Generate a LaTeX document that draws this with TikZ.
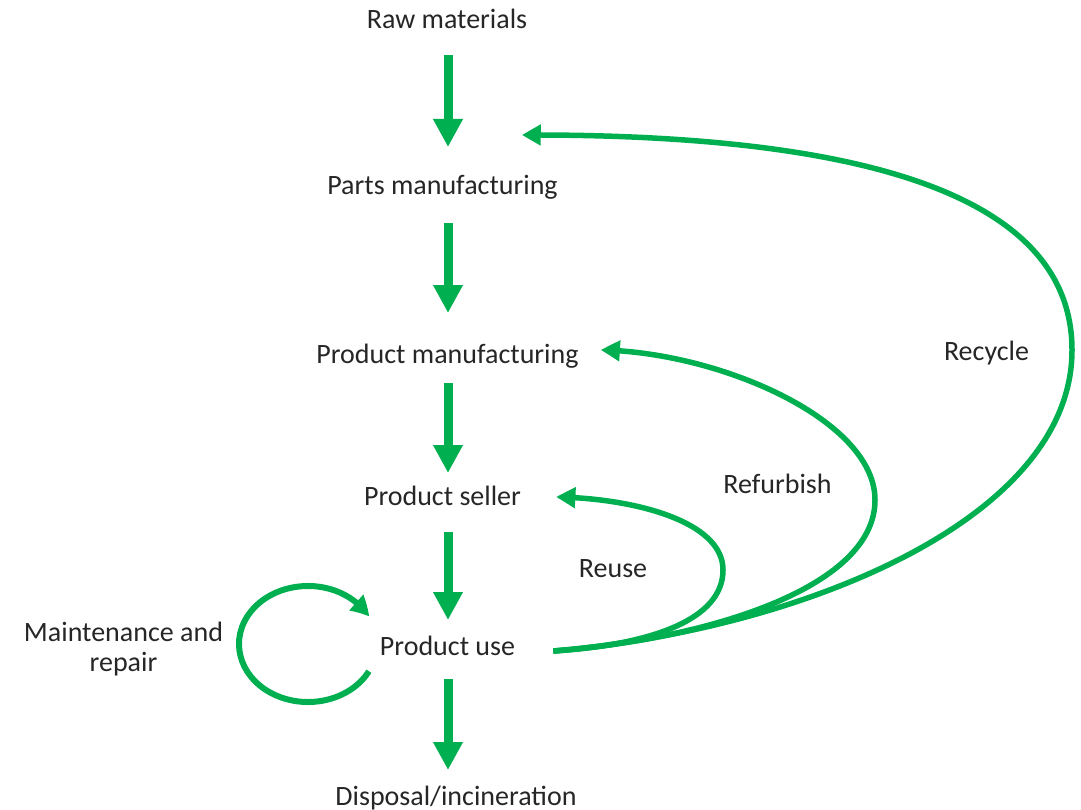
\documentclass[tikz,border=0pt]{standalone}
\usepackage{fontspec}
\setmainfont{Carlito}
\usetikzlibrary{arrows.meta,bending,calc}
\definecolor{flowgreen}{RGB}{0,176,80}
\definecolor{txt}{RGB}{38,38,38}
\begin{document}
\begin{tikzpicture}[x=1pt,y=1pt,
  lbl/.style={inner sep=0pt,anchor=base,text=txt,font=\fontsize{28}{30}\selectfont,align=center},
  mainarrow/.style={draw=flowgreen,line width=9pt,-{Triangle[width=28pt,length=28pt]}},
  looparrow/.style={draw=flowgreen,line width=5.5pt,-{Triangle[width=20pt,length=19pt,bend]}}]
\useasboundingbox (0,0) rectangle (1081,-810);
\coordinate (axis) at (448,0);
% main chain
\node[lbl] (raw) at (447,-29) {Raw materials};
\node[lbl] (parts) at (442.5,-195) {Parts manufacturing};
\node[lbl] (pman) at (447.5,-363) {Product manufacturing};
\node[lbl] (seller) at (442.5,-505) {Product seller};
\node[lbl] (use) at (447.5,-655) {Product use};
\node[lbl] (disp) at (456,-805) {Disposal/incineration};
\node[lbl] (maint) at (123.5,-671) {Maintenance and\\repair};
\node[lbl] (recycle) at (986.5,-360) {Recycle};
\node[lbl] (refurb) at (777.5,-493) {Refurbish};
\node[lbl] (reuse) at (613,-577) {Reuse};
% vertical arrows
\draw[mainarrow,shorten <=26pt,shorten >=48pt] (raw.base -| axis) -- (parts.base -| axis);
\draw[mainarrow,shorten <=28pt,shorten >=50pt] (parts.base -| axis) -- (pman.base -| axis);
\draw[mainarrow,shorten <=20pt,shorten >=32pt] (pman.base -| axis) -- (seller.base -| axis);
\draw[mainarrow,shorten <=27pt,shorten >=35pt] (seller.base -| axis) -- (use.base -| axis);
\draw[mainarrow,shorten <=24pt,shorten >=35pt] (use.base -| axis) -- (disp.base -| axis);
% return loops
\coordinate (src) at ($(use.base east)+(38,4)$);
\coordinate (reuseTip) at ($(seller.base east)+(35,8)$);
\coordinate (refurbTip) at ($(pman.base east)+(22,13)$);
\coordinate (recycleTip) at ($(parts.base east)+(-36,60)$);
\draw[looparrow] (src) .. controls (650,-645) and (723,-620) .. (723,-570)
   .. controls (723,-520) and (630,-498) .. (reuseTip);
\draw[looparrow] (src) .. controls (700,-640) and (875,-590) .. (875,-500)
   .. controls (875,-420) and (720,-352) .. (refurbTip);
\draw[looparrow] (src) .. controls (800,-630) and (1072,-520) .. (1072,-350)
   .. controls (1072,-180) and (820,-134) .. (recycleTip);
% maintenance loop
\coordinate (loopc) at (308,-644);
\draw[looparrow,line width=6pt] ($(loopc)+(-28:69 and 58)$) arc[start angle=-28,end angle=-332,x radius=69,y radius=58];
\end{tikzpicture}
\end{document}
